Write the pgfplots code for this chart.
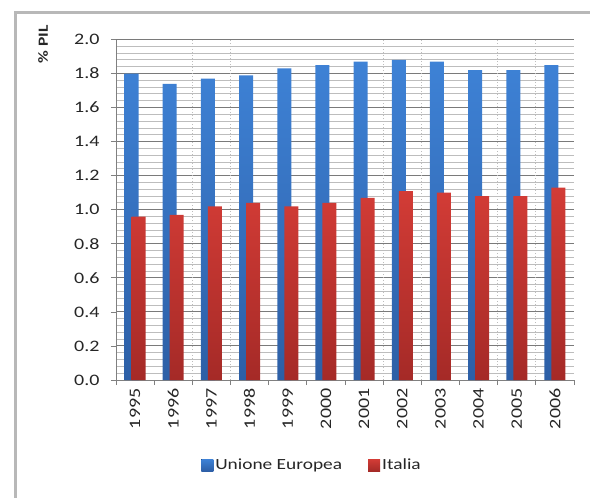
\documentclass[border=0pt]{standalone}
\usepackage{pgfplots}
\pgfplotsset{compat=1.18}
\usepackage{fontspec}
\setmainfont[FakeStretch=1.25]{Carlito}

\definecolor{ueTop}{HTML}{3E82D6}
\definecolor{ueBot}{HTML}{2D5FA6}
\definecolor{itTop}{HTML}{D33C36}
\definecolor{itBot}{HTML}{A52A27}
\definecolor{gridmaj}{HTML}{7A7A7A}
\definecolor{gridmin}{HTML}{BDBDBD}
\definecolor{frame}{HTML}{B8B8B8}
\definecolor{txt}{HTML}{262626}

\begin{document}
\begin{tikzpicture}
\path[use as bounding box] (0,0) rectangle (590pt,-498pt);
\draw[frame, line width=3pt] (15pt,-498pt) -- (15pt,-12pt) -- (590pt,-12pt);

\begin{axis}[
  at={(116pt,-380pt)}, anchor=south west,
  scale only axis, width=458pt, height=340.5pt,
  xmin=-0.5, xmax=11.5, ymin=0, ymax=2,
  axis x line*=bottom, axis y line*=left,
  axis line style={gray, line width=0.8pt},
  xtick={0,...,11}, major x tick style={draw=none},
  xticklabels={1995,1996,1997,1998,1999,2000,2001,2002,2003,2004,2005,2006},
  minor xtick={-0.5,0.5,...,11.5},
  extra x ticks={1.5,2.5,6.5,7.5,9.5,10.5}, extra x tick labels={},
  extra x tick style={grid=major, major grid style={gridmin, dotted, line width=1pt}, major tick length=0pt},
  xticklabel style={rotate=90, anchor=east, font=\fontsize{16}{18}\selectfont, text=txt},
  ytick={0,0.2,...,2.0},
  minor y tick num=4,
  ymajorgrids, yminorgrids,
  major grid style={gridmaj, line width=1pt},
  minor grid style={gridmin, line width=1pt},
  tick align=outside, tick style={gray, line width=0.8pt},
  major tick length=5pt, minor tick length=5pt,
  minor y tick style={draw=none},
  yticklabel style={font=\fontsize{16}{18}\selectfont, text=txt, xshift=-8pt,
    /pgf/number format/.cd, fixed, fixed zerofill, precision=1, assume math mode=true},
  legend style={at={(0.428,-0.25)}, anchor=center, draw=none, fill=none,
    legend columns=2, font=\fontsize{15.5}{18}\selectfont, text=txt,
    /tikz/every even column/.append style={column sep=24pt}},
  legend image code/.code={\fill[#1] (0pt,-6pt) rectangle (12pt,6pt);},
]
\addplot[ybar, bar width=14pt, bar shift=-3.5pt, draw=none, top color=ueTop, bottom color=ueBot]
  coordinates {(0,1.80) (1,1.74) (2,1.77) (3,1.79) (4,1.83) (5,1.85)
               (6,1.87) (7,1.88) (8,1.87) (9,1.82) (10,1.82) (11,1.85)};
\addlegendentry{Unione Europea}
\addplot[ybar, bar width=14pt, bar shift=3.5pt, draw=none, top color=itTop, bottom color=itBot]
  coordinates {(0,0.96) (1,0.97) (2,1.02) (3,1.04) (4,1.02) (5,1.04)
               (6,1.07) (7,1.11) (8,1.10) (9,1.08) (10,1.08) (11,1.13)};
\addlegendentry{Italia}
\end{axis}

\node[rotate=90, anchor=east, font=\fontsize{14}{16}\selectfont\bfseries, text=txt] at (43pt,-22pt) {\% PIL};
\end{tikzpicture}
\end{document}
